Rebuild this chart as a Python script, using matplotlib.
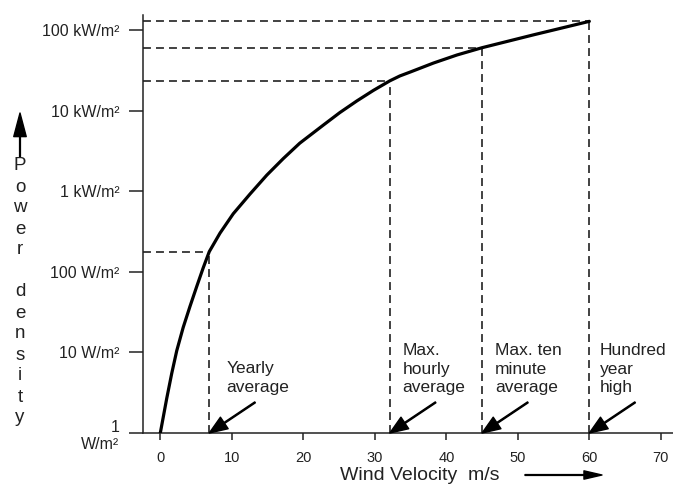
import matplotlib.pyplot as plt

plt.rcParams['font.family'] = ['Liberation Sans', 'DejaVu Sans']

# wind velocity (m/s) and power density (W/m2)
wind_speed = [0, 0.9, 1.6, 2.3, 3.2, 4.15, 5.1, 6.0, 6.85, 8.35, 10.2, 12.55,
              14.9, 17.2, 19.5, 22.8, 25.1, 27.5, 29.8, 32.1, 33.5, 35.0,
              38.2, 41.5, 45.0, 52.2, 60.0]
power_density = [1, 2.69, 5.5, 10.5, 20.4, 37.2, 66, 112, 178, 302, 525, 923,
                 1585, 2540, 3940, 6610, 9440, 13200, 17800, 23400, 26900, 30200,
                 38900, 49000, 60300, 87100, 128000]

# marked wind speeds
marker_speed = [6.85, 32.1, 45.0, 60.0]
marker_power = [178, 23400, 60300, 128000]
marker_labels = ['Yearly\naverage', 'Max.\nhourly\naverage',
                 'Max. ten\nminute\naverage', 'Hundred\nyear\nhigh']

xticks = [0, 10, 20, 30, 40, 50, 60, 70]
yticks = [1, 10, 100, 1e3, 1e4, 1e5]
ytick_labels = ['1\nW/m²', '10 W/m²', '100 W/m²', '1 kW/m²', '10 kW/m²', '100 kW/m²']

ink = '#222222'
W, H = 673, 487

fig = plt.figure(figsize=(6.73, 4.87), dpi=100)
ax = fig.add_axes([143 / W, 54 / H, 530 / W, 418 / H])
ax.set_yscale('log')

x_lo, x_hi = -2.42, 71.7
y_lo, y_hi = 1, 10 ** 5.186

ax.plot(wind_speed, power_density, color='black', lw=2.3,
        solid_capstyle='round', solid_joinstyle='round', zorder=3)

dash = dict(color='#333333', lw=1.3, dashes=[4.4, 2.8])
text_dx = [2.4, 1.8, 1.8, 1.5]
text_top = [7.8, 13, 13, 13]
for v, p, lab, dx, top in zip(marker_speed, marker_power, marker_labels, text_dx, text_top):
    ax.plot([x_lo, v], [p, p], **dash)
    ax.plot([v, v], [y_lo, p], **dash)
    ax.text(v + dx, top, lab, ha='left', va='top', fontsize=12.5, color=ink, linespacing=1.3)
    ax.annotate('', xy=(v, y_lo), xytext=(v + 6.4, 2.4),
                arrowprops=dict(facecolor='black', edgecolor='black', width=0.8,
                                headwidth=10, headlength=13, shrink=0))

ax.set_xlim(x_lo, x_hi)
ax.set_ylim(y_lo, y_hi)
ax.set_xticks(xticks)
ax.set_yticks(yticks, ytick_labels)
ax.minorticks_off()

for s in ['top', 'right']:
    ax.spines[s].set_visible(False)
for s in ['left', 'bottom']:
    ax.spines[s].set_linewidth(1.1)
    ax.spines[s].set_color(ink)

ax.tick_params(axis='y', length=10, width=1.1, pad=7, labelsize=11.5, colors=ink)
ax.tick_params(axis='x', length=5, width=1.1, pad=8, labelsize=10.5, colors=ink)

# stacked y label with arrow
for i, ch in enumerate('Power density'):
    fig.text(20 / W, 1 - (166 + 21 * i) / H, ch, ha='center', va='center',
             fontsize=13.5, color=ink)
ax.annotate('', xy=(20 / W, 1 - 113 / H), xytext=(20 / W, 1 - 157 / H),
            xycoords='figure fraction', textcoords='figure fraction',
            arrowprops=dict(facecolor='black', edgecolor='black', width=0.6,
                            headwidth=9, headlength=17, shrink=0))

# x label with arrow
fig.text(420 / W, 1 - 475 / H, 'Wind Velocity  m/s', ha='center', va='center',
         fontsize=14, color=ink)
ax.annotate('', xy=(602 / W, 1 - 475 / H), xytext=(525 / W, 1 - 475 / H),
            xycoords='figure fraction', textcoords='figure fraction',
            arrowprops=dict(facecolor='black', edgecolor='black', width=0.6,
                            headwidth=6, headlength=13, shrink=0))

fig.savefig('out.png', dpi=100)
